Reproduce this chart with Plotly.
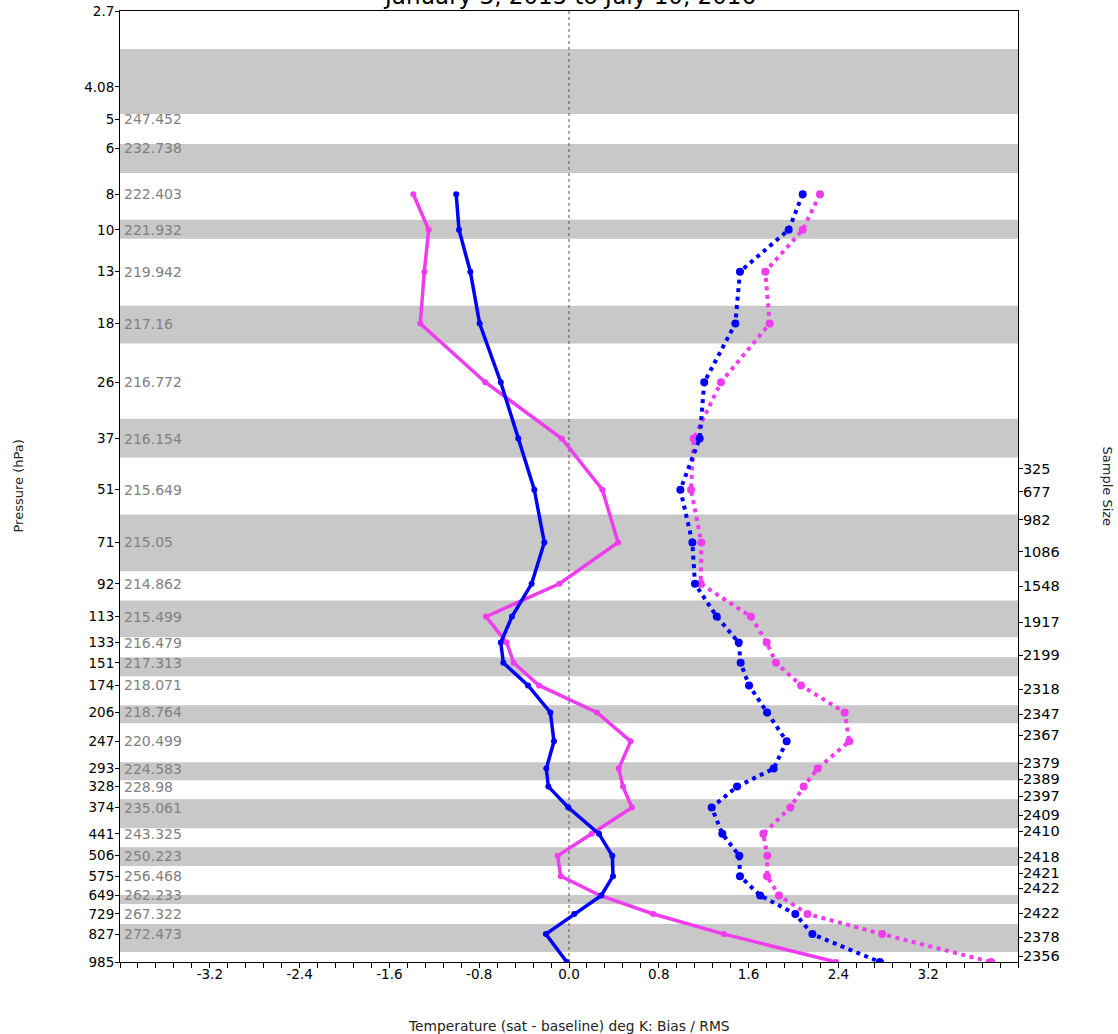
import numpy as np
import plotly.graph_objects as go

# ---- pressure levels (hPa) and the mean temperature (K) printed beside each ----
level_p = [4.08, 5, 6, 8, 10, 13, 18, 26, 37, 51, 71, 92, 113, 133, 151, 174,
           206, 247, 293, 328, 374, 441, 506, 575, 649, 729, 827, 985]
level_labels = ["4.08", "5", "6", "8", "10", "13", "18", "26", "37", "51", "71", "92",
                "113", "133", "151", "174", "206", "247", "293", "328", "374", "441",
                "506", "575", "649", "729", "827", "985"]
mean_temp = ["", "247.452", "232.738", "222.403", "221.932", "219.942", "217.16",
             "216.772", "216.154", "215.649", "215.05", "214.862", "215.499",
             "216.479", "217.313", "218.071", "218.764", "220.499", "224.583",
             "228.98", "235.061", "243.325", "250.223", "256.468", "262.233",
             "267.322", "272.473", ""]

# axis extent (hPa): top of the column, surface
p_top, p_bottom = 2.537, 985
top_label = "2.7"

# temperature axis labels
x_ticks = [-3.2, -2.4, -1.6, -0.8, 0.0, 0.8, 1.6, 2.4, 3.2]
x_tick_text = ["-3.2", "-2.4", "-1.6", "-0.8", "0.0", "0.8", "1.6", "2.4", "3.2"]

# ---- profile statistics (sat - baseline), deg K ----
profile_p = [8, 10, 13, 18, 26, 37, 51, 71, 92, 113, 133, 151, 174, 206, 247, 293,
             328, 374, 441, 506, 575, 649, 729, 827, 985]
bias_a = [-1.005, -0.98, -0.879, -0.796, -0.608, -0.452, -0.309, -0.22, -0.333,
          -0.508, -0.608, -0.585, -0.365, -0.166, -0.134, -0.202, -0.184, -0.006,
          0.267, 0.386, 0.392, 0.288, 0.047, -0.206, -0.02]
rms_a = [2.082, 1.957, 1.523, 1.482, 1.205, 1.164, 0.992, 1.099, 1.122, 1.316,
         1.512, 1.529, 1.604, 1.764, 1.939, 1.823, 1.497, 1.271, 1.366, 1.517,
         1.523, 1.703, 2.016, 2.168, 2.77]
bias_b = [-1.387, -1.25, -1.289, -1.325, -0.746, -0.065, 0.297, 0.437, -0.086,
          -0.739, -0.555, -0.493, -0.267, 0.249, 0.549, 0.443, 0.481, 0.561, 0.202,
          -0.101, -0.074, 0.276, 0.751, 1.38, 2.38]
rms_b = [2.236, 2.082, 1.749, 1.788, 1.354, 1.111, 1.087, 1.179, 1.173, 1.621,
         1.761, 1.844, 2.067, 2.456, 2.497, 2.215, 2.091, 1.972, 1.731, 1.767,
         1.764, 1.871, 2.125, 2.79, 3.76]

# ---- sample size per layer (right axis) ----
sample_p = [44.7, 51.6, 61.5, 75.1, 93.5, 117.2, 144.0, 178.2, 208.4, 237.8, 283.5,
            313.3, 348.3, 392.4, 433.7, 510.6, 564.2, 619.7, 724.8, 842.4, 948.7]
sample_n = ["325", "677", "982", "1086", "1548", "1917", "2199", "2318", "2347",
            "2367", "2379", "2389", "2397", "2409", "2410", "2418", "2421", "2422",
            "2422", "2378", "2356"]

# ---- shaded layers (hPa boundaries) ----
band_top = [3.22, 5.84, 9.39, 16.1, 32.7, 59.6, 102.1, 145.9, 197.0, 281.5, 354.9,
            479.4, 647.6, 776.5]
band_bot = [4.84, 7.0, 10.58, 20.4, 41.7, 85.1, 128.7, 164.3, 220.5, 315.1, 425.8,
            540.0, 684.9, 925.3]

title_text = "January 3, 2015 to July 10, 2016"
x_title = "Temperature (sat - baseline) deg K: Bias / RMS"

BLUE = "#0000ff"
MAGENTA = "#ef3cef"
FONT = "DejaVu Sans"

fig = go.Figure()

# layer shading
for t, b in zip(band_top, band_bot):
    fig.add_shape(type="rect", xref="paper", x0=0, x1=1, yref="y", y0=t, y1=b,
                  fillcolor="#c8c8c8", line=dict(width=0), layer="below")

# zero line
fig.add_shape(type="line", xref="x", x0=0, x1=0, yref="paper", y0=0, y1=1,
              line=dict(color="#555555", width=1, dash="dot"), layer="below")

dotted = "4px,4.5px"
fig.add_trace(go.Scatter(x=bias_b, y=profile_p, mode="lines+markers",
                         line=dict(color=MAGENTA, width=3.5),
                         marker=dict(color=MAGENTA, size=6), showlegend=False))
fig.add_trace(go.Scatter(x=rms_b, y=profile_p, mode="lines+markers",
                         line=dict(color=MAGENTA, width=4, dash=dotted),
                         marker=dict(color=MAGENTA, size=8), showlegend=False))
fig.add_trace(go.Scatter(x=bias_a, y=profile_p, mode="lines+markers",
                         line=dict(color=BLUE, width=3.5),
                         marker=dict(color=BLUE, size=6), showlegend=False))
fig.add_trace(go.Scatter(x=rms_a, y=profile_p, mode="lines+markers",
                         line=dict(color=BLUE, width=4, dash=dotted),
                         marker=dict(color=BLUE, size=8), showlegend=False))

# carrier for the right-hand sample size axis
fig.add_trace(go.Scatter(x=[0], y=[100], yaxis="y2", mode="markers",
                         marker=dict(opacity=0), hoverinfo="skip", showlegend=False))

# mean temperature labels inside the left edge
for p, t in zip(level_p, mean_temp):
    if t:
        fig.add_annotation(xref="paper", x=0, xanchor="left", xshift=2,
                           yref="y", y=np.log10(p), yanchor="middle",
                           text=t, showarrow=False,
                           font=dict(family=FONT, size=14, color="#808080"))

yrange = [np.log10(p_bottom), np.log10(p_top)]
fig.update_layout(
    width=1118, height=1034,
    margin=dict(l=120, r=100, t=11, b=72, autoexpand=False),
    paper_bgcolor="white", plot_bgcolor="white",
    font=dict(family=FONT, size=13, color="black"),
    xaxis=dict(range=[-4, 4], tickmode="array", tickvals=x_ticks,
               ticktext=x_tick_text, automargin=False,
               ticks="outside", ticklen=5, tickcolor="black",
               ticklabelstandoff=-5,
               minor=dict(dtick=0.16, tick0=0, ticks="outside", ticklen=5,
                          tickcolor="black", showgrid=False),
               showgrid=False, zeroline=False, showline=True, mirror=True,
               linecolor="black", linewidth=1,
               tickfont=dict(family=FONT, size=13.5, color="black")),
    yaxis=dict(type="log", range=yrange, automargin=False,
               tickmode="array", tickvals=[p_top] + level_p,
               ticktext=[top_label] + level_labels,
               ticks="outside", ticklen=4, tickcolor="black",
               ticklabelstandoff=-2,
               showgrid=False, zeroline=False, showline=True, mirror=True,
               linecolor="black", linewidth=1,
               tickfont=dict(family=FONT, size=13.5, color="black")),
    yaxis2=dict(type="log", range=yrange, overlaying="y", side="right",
                automargin=False,
                tickmode="array", tickvals=sample_p, ticktext=sample_n,
                ticks="outside", ticklen=4, tickcolor="black",
                ticklabelstandoff=-3,
                showgrid=False, zeroline=False, showline=False,
                tickfont=dict(family=FONT, size=14.5, color="black")),
)

fig.add_annotation(xref="paper", x=0.5, yref="paper", y=1, yanchor="bottom",
                   yshift=0, text=title_text, showarrow=False,
                   font=dict(family=FONT, size=23, color="black"))
fig.add_annotation(xref="paper", x=0.5, yref="paper", y=0, yanchor="middle",
                   yshift=-64, text=x_title, showarrow=False,
                   font=dict(family=FONT, size=13.8, color="#222222"))
fig.add_annotation(xref="paper", x=0, xanchor="center", xshift=-102,
                   yref="paper", y=0.5,
                   text="Pressure (hPa)", textangle=-90, showarrow=False,
                   font=dict(family=FONT, size=13, color="#222222"))
fig.add_annotation(xref="paper", x=1, xanchor="center", xshift=89,
                   yref="paper", y=0.5,
                   text="Sample Size", textangle=90, showarrow=False,
                   font=dict(family=FONT, size=13, color="#222222"))

fig.write_html("out.html")
